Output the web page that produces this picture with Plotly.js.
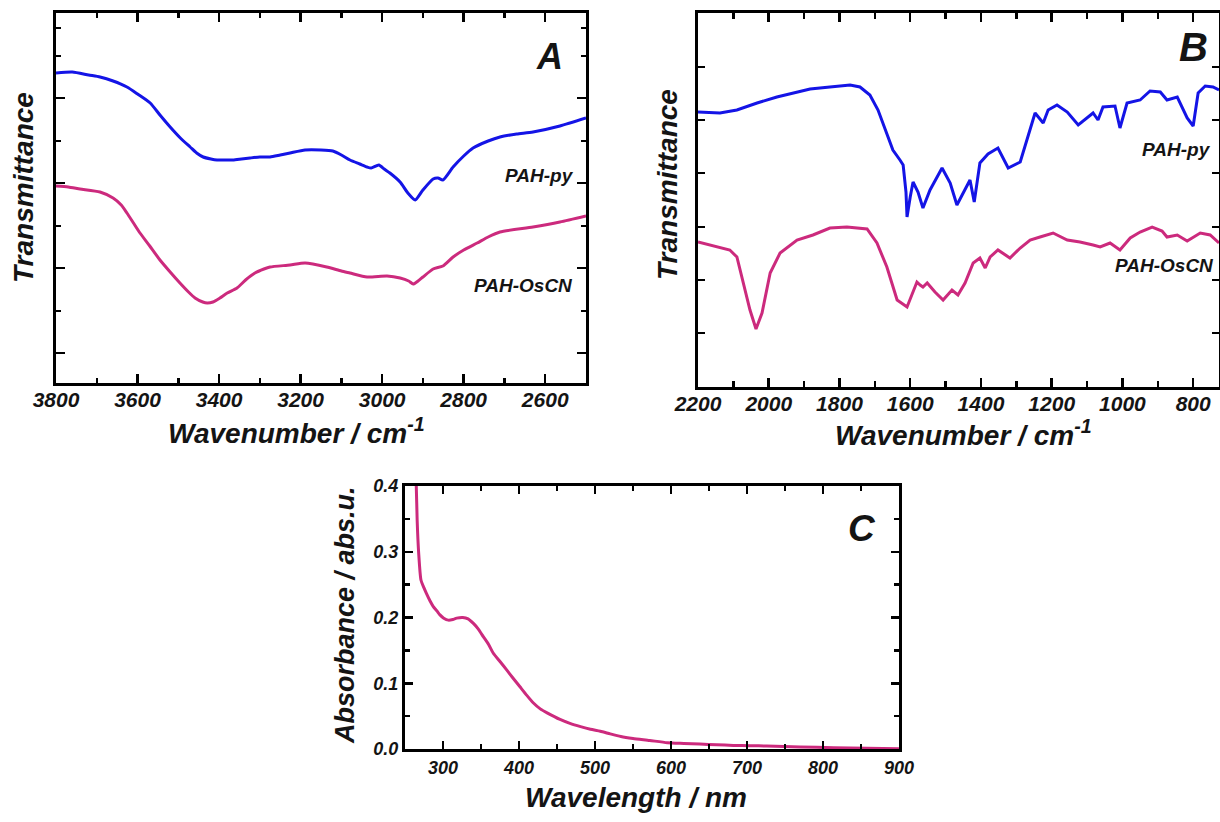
<!DOCTYPE html>
<html>
<head>
<meta charset="utf-8">
<script src="https://cdn.plot.ly/plotly-3.0.1.min.js"></script>
<style>html,body{margin:0;padding:0;background:#fff;}#chart{width:1220px;height:822px;}</style>
</head>
<body>
<div id="chart"></div>
<script>
// ---------- Panel A : FTIR 3800-2500 cm-1 (transmittance, arbitrary units) ----------
const wnA_py = [3800,3760,3720,3692,3660,3626,3600,3569,3545,3520,3495,3471,3455,3439,3420,3405,3385,3366,3345,3324,3300,3275,3250,3226,3189,3150,3121,3100,3079,3055,3037,3027,3008,2995,2981,2956,2937,2919,2900,2875,2863,2851,2826,2800,2777,2740,2711,2670,2630,2564,2500];
const tA_py  = [310,311,308,306,302,296,289,280,268,256,245,236,230,226,224,223,223,223,224,225,226,226,228,230,233,233,232,228,223,219,216,215,218,214,210,201,190,183,193,204,205,203,216,227,235,242,246,249,251,257,265];
const wnA_os = [3800,3770,3741,3692,3660,3640,3626,3610,3594,3570,3545,3520,3496,3475,3459,3440,3429,3415,3398,3380,3356,3335,3312,3290,3275,3226,3189,3136,3100,3079,3037,2988,2956,2935,2924,2912,2900,2875,2851,2826,2800,2767,2740,2711,2630,2564,2500];
const tA_os  = [197,196,194,191,185,178,170,160,150,137,123,111,100,91,85,81,80,81,85,90,95,103,110,114,116,118,120,116,112,110,106,107,105,102,99,102,106,114,117,126,133,140,146,151,156,161,167];
const tickA_x = [3800,3600,3400,3200,3000,2800,2600];
const tickA_y_major = [30,115,200,285];
const tickA_y_minor = [72,157,242,327,355];

// ---------- Panel B : FTIR 2200-730 cm-1 ----------
const wnB_py = [2200,2138,2090,2033,1977,1931,1883,1827,1770,1742,1714,1691,1666,1649,1629,1620,1612,1609,1600,1592,1578,1564,1544,1510,1487,1468,1431,1419,1403,1380,1352,1323,1289,1270,1247,1224,1210,1185,1156,1125,1083,1069,1055,1021,1007,987,950,922,893,874,845,817,800,786,766,744,727];
const tB_py  = [275,274,277,284,290,294,298,300,302,300,292,277,254,237,227,222,195,170,190,205,195,179,197,219,204,182,207,185,224,233,239,219,225,247,274,264,277,282,275,262,274,267,280,281,259,284,287,296,295,287,290,269,261,294,301,300,297];
const wnB_os = [2200,2146,2110,2090,2073,2053,2036,2019,1996,1968,1920,1875,1827,1779,1722,1694,1666,1637,1609,1592,1581,1572,1564,1552,1530,1507,1482,1465,1445,1422,1403,1388,1374,1352,1318,1289,1261,1233,1196,1156,1120,1083,1063,1035,1007,978,950,916,888,874,845,817,780,752,727];
const tB_os  = [145,140,137,130,107,77,58,74,114,134,147,152,159,160,158,144,120,87,80,95,105,102,100,104,95,87,97,92,104,124,129,119,130,137,129,139,147,150,154,147,145,142,140,144,137,149,155,160,156,150,152,146,154,152,144];
const tickB_x = [2200,2000,1800,1600,1400,1200,1000,800];
const tickB_y = [54,107,160,214,267,320];

// ---------- Panel C : UV-vis absorbance of PAH-OsCN ----------
const lamC = [262,264.8,266,268,271,275,278,283,287,292,296,301,307,313,318,326,333,340,346,353,360,366,375,384,392,401,410,419,428,437,454,467,481,494,507,520,534,550,572,595,617,638,660,682,704,726,770,814,858,900];
const absC = [0.46,0.401,0.348,0.298,0.257,0.245,0.237,0.225,0.217,0.210,0.204,0.199,0.196,0.197,0.199,0.200,0.198,0.191,0.183,0.171,0.159,0.146,0.133,0.120,0.108,0.095,0.082,0.070,0.061,0.055,0.045,0.039,0.034,0.030,0.027,0.023,0.019,0.016,0.013,0.0096,0.0085,0.0075,0.0065,0.0055,0.005,0.0045,0.003,0.002,0.001,0.0005];

const BLUE = '#1414e6';
const MAG = '#cc2a7d';
const FONT = 'Liberation Sans, Arial, Helvetica, sans-serif';
const INK = '#141414';

function fnt(size){ return {family: FONT, size: size, color: INK, weight: 'bold', style: 'italic'}; }

function ax(extra){
  return Object.assign({
    showline: true, linewidth: 3, linecolor: '#000', mirror: 'ticks',
    ticks: 'inside', ticklen: 9, tickwidth: 2.5, tickcolor: '#000',
    showgrid: false, zeroline: false, fixedrange: true,
    tickfont: fnt(21)
  }, extra);
}

const traces = [
  {x: wnA_py, y: tA_py, xaxis: 'x', yaxis: 'y', type: 'scatter', mode: 'lines', name: 'PAH-py',
   line: {color: BLUE, width: 3, shape: 'spline', smoothing: 0.6}},
  {x: wnA_os, y: tA_os, xaxis: 'x', yaxis: 'y', type: 'scatter', mode: 'lines', name: 'PAH-OsCN',
   line: {color: MAG, width: 3, shape: 'spline', smoothing: 0.6}},
  {x: wnB_py, y: tB_py, xaxis: 'x2', yaxis: 'y2', type: 'scatter', mode: 'lines', name: 'PAH-py',
   line: {color: BLUE, width: 3}},
  {x: wnB_os, y: tB_os, xaxis: 'x2', yaxis: 'y2', type: 'scatter', mode: 'lines', name: 'PAH-OsCN',
   line: {color: MAG, width: 3}},
  {x: lamC, y: absC, xaxis: 'x3', yaxis: 'y3', type: 'scatter', mode: 'lines', name: 'PAH-OsCN',
   line: {color: MAG, width: 3, shape: 'spline', smoothing: 0.6}}
];

const layout = {
  width: 1220, height: 822,
  margin: {l: 0, r: 0, t: 0, b: 0},
  paper_bgcolor: '#fff', plot_bgcolor: '#fff',
  showlegend: false,
  xaxis: ax({domain: [56/1220, 586/1220], range: [3800, 2500], anchor: 'y',
    tickmode: 'array', tickvals: tickA_x, ticklabelstandoff: -4,
    minor: {ticks: 'inside', ticklen: 5, tickwidth: 2.5, tickcolor: '#000', dtick: 100, tick0: 0, showgrid: false}}),
  yaxis: ax({domain: [1 - 383/822, 1 - 13/822], range: [0, 370], anchor: 'x',
    tickmode: 'array', tickvals: tickA_y_major, showticklabels: false,
    minor: {ticks: 'inside', ticklen: 5, tickwidth: 2.5, tickcolor: '#000', tickmode: 'array', tickvals: tickA_y_minor, showgrid: false}}),
  xaxis2: ax({domain: [698/1220, 1219/1220], range: [2200, 727], anchor: 'y2',
    tickmode: 'array', tickvals: tickB_x, ticklabelstandoff: -4,
    minor: {ticks: 'inside', ticklen: 6, tickwidth: 2.5, tickcolor: '#000', dtick: 100, tick0: 0, showgrid: false}}),
  yaxis2: ax({domain: [1 - 387/822, 1 - 13/822], range: [0, 374], anchor: 'x2',
    tickmode: 'array', tickvals: tickB_y, showticklabels: false, ticklen: 7}),
  xaxis3: ax({domain: [405/1220, 899/1220], range: [250, 900], anchor: 'y3',
    tickmode: 'linear', tick0: 300, dtick: 100, tickfont: fnt(18), ticklen: 8,
    minor: {ticks: 'inside', ticklen: 5, tickwidth: 2.5, tickcolor: '#000', dtick: 50, tick0: 0, showgrid: false}}),
  yaxis3: ax({domain: [1 - 749/822, 1 - 486/822], range: [0, 0.4], anchor: 'x3',
    tickmode: 'linear', tick0: 0, dtick: 0.1, tickformat: '.1f', tickfont: fnt(18), ticklen: 8,
    minor: {ticks: 'inside', ticklen: 5, tickwidth: 2.5, tickcolor: '#000', dtick: 0.05, tick0: 0, showgrid: false}}),
  annotations: [
    // axis titles
    {text: 'Wavenumber / cm<sup>-1</sup>', xref: 'paper', yref: 'paper', x: 296/1220, y: 1 - 431/822, showarrow: false, font: fnt(28), xanchor: 'center', yanchor: 'middle'},
    {text: 'Wavenumber / cm<sup>-1</sup>', xref: 'paper', yref: 'paper', x: 964/1220, y: 1 - 433/822, showarrow: false, font: fnt(28), xanchor: 'center', yanchor: 'middle'},
    {text: 'Wavelength / nm', xref: 'paper', yref: 'paper', x: 636/1220, y: 1 - 797/822, showarrow: false, font: fnt(28), xanchor: 'center', yanchor: 'middle'},
    {text: 'Transmittance', xref: 'paper', yref: 'paper', x: 24/1220, y: 1 - 188/822, showarrow: false, font: fnt(28), textangle: -90, xanchor: 'center', yanchor: 'middle'},
    {text: 'Transmittance', xref: 'paper', yref: 'paper', x: 667/1220, y: 1 - 185/822, showarrow: false, font: fnt(28), textangle: -90, xanchor: 'center', yanchor: 'middle'},
    {text: 'Absorbance / abs.u.', xref: 'paper', yref: 'paper', x: 345/1220, y: 1 - 615/822, showarrow: false, font: fnt(27), textangle: -90, xanchor: 'center', yanchor: 'middle'},
    // panel letters
    {text: 'A', xref: 'paper', yref: 'paper', x: 549/1220, y: 1 - 56/822, showarrow: false, font: fnt(36), xanchor: 'center', yanchor: 'middle'},
    {text: 'B', xref: 'paper', yref: 'paper', x: 1193/1220, y: 1 - 47/822, showarrow: false, font: fnt(40), xanchor: 'center', yanchor: 'middle'},
    {text: 'C', xref: 'paper', yref: 'paper', x: 862/1220, y: 1 - 528/822, showarrow: false, font: fnt(37), xanchor: 'center', yanchor: 'middle'},
    // curve labels
    {text: 'PAH-py', xref: 'paper', yref: 'paper', x: 539/1220, y: 1 - 175/822, showarrow: false, font: fnt(19), xanchor: 'center', yanchor: 'middle'},
    {text: 'PAH-OsCN', xref: 'paper', yref: 'paper', x: 523/1220, y: 1 - 285/822, showarrow: false, font: fnt(19), xanchor: 'center', yanchor: 'middle'},
    {text: 'PAH-py', xref: 'paper', yref: 'paper', x: 1176/1220, y: 1 - 149/822, showarrow: false, font: fnt(19), xanchor: 'center', yanchor: 'middle'},
    {text: 'PAH-OsCN', xref: 'paper', yref: 'paper', x: 1164/1220, y: 1 - 265/822, showarrow: false, font: fnt(19), xanchor: 'center', yanchor: 'middle'}
  ]
};

Plotly.newPlot('chart', traces, layout, {displayModeBar: false, staticPlot: true});
</script>
</body>
</html>
